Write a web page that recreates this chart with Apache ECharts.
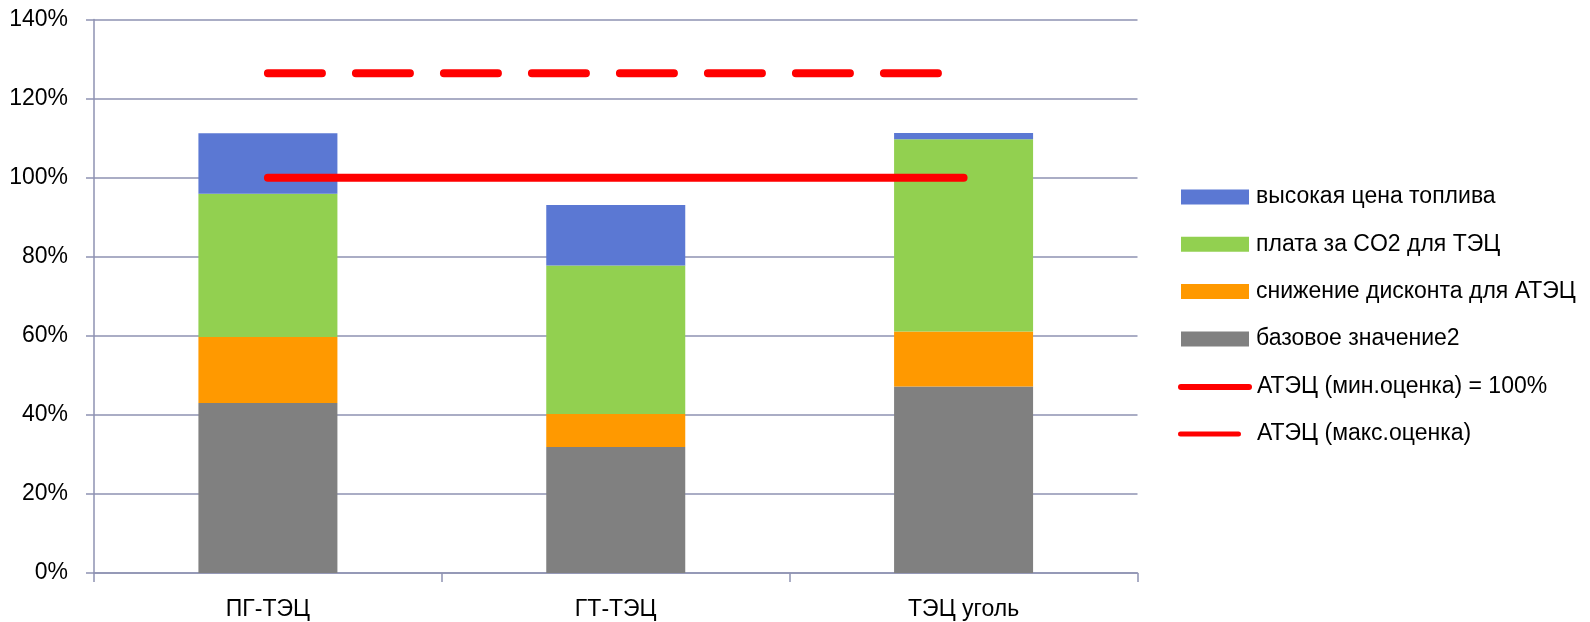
<!DOCTYPE html>
<html>
<head>
<meta charset="utf-8">
<script src="https://cdn.jsdelivr.net/npm/echarts@6/dist/echarts.min.js"></script>
<style>
  html, body { margin: 0; padding: 0; background: #ffffff; }
  #chart { width: 1590px; height: 622px; }
</style>
</head>
<body>
<div id="chart"></div>
<script>
// Categories of plants
const categories = ['ПГ-ТЭЦ', 'ГТ-ТЭЦ', 'ТЭЦ уголь'];

// Stacked components, percent of the reference cost
const baseValue     = [43.0, 31.9, 47.2];  // базовое значение2
const discountCut   = [16.7, 8.3, 13.9];   // снижение дисконта для АТЭЦ
const co2Payment    = [36.2, 37.6, 48.6];  // плата за CO2 для ТЭЦ
const highFuelPrice = [15.3, 15.3, 1.6];   // высокая цена топлива

// Nuclear CHP reference levels
const atecMin = [100, 100, 100];
const atecMax = [126.4, 126.4, 126.4];

// Y axis ticks
const yTicks = [0, 20, 40, 60, 80, 100, 120, 140];

const names = {
  base: 'базовое значение2',
  disc: 'снижение дисконта для АТЭЦ',
  co2: 'плата за CO2 для ТЭЦ',
  fuel: 'высокая цена топлива',
  min: 'АТЭЦ (мин.оценка) = 100%',
  max: 'АТЭЦ (макс.оценка)'
};

const FONT = "'Liberation Sans', Arial, sans-serif";
const AXIS_COLOR = '#8e92b2';
const capsule = 'path://M4,0 L96,0 A4,4 0 0 1 96,8 L4,8 A4,4 0 0 1 4,0 Z';

const chart = echarts.init(document.getElementById('chart'), null, { renderer: 'canvas' });

const legendText = { fontFamily: FONT, fontSize: 23, color: '#000000', lineHeight: 24 };

chart.setOption({
  animation: false,
  backgroundColor: '#ffffff',
  grid: { left: 94, right: 452.5, top: 19.5, bottom: 49, containLabel: false },
  legend: [
    {
      orient: 'vertical',
      left: 1181,
      top: 185,
      padding: 0,
      itemWidth: 68,
      itemHeight: 15,
      itemGap: 23.3,
      icon: 'rect',
      textStyle: Object.assign({ padding: [0, 0, 0, 2] }, legendText),
      selectedMode: false,
      data: [names.fuel, names.co2, names.disc, names.base]
    },
    {
      orient: 'vertical',
      left: 1178,
      top: 375,
      padding: 0,
      itemWidth: 74,
      itemHeight: 8,
      icon: capsule,
      textStyle: Object.assign({ padding: [0, 0, 0, 0] }, legendText),
      selectedMode: false,
      data: [names.min]
    },
    {
      orient: 'vertical',
      left: 1178,
      top: 422,
      padding: 0,
      itemWidth: 63,
      itemHeight: 8,
      icon: capsule,
      textStyle: Object.assign({ padding: [0, 0, 0, 11] }, legendText),
      selectedMode: false,
      data: [names.max]
    }
  ],
  xAxis: {
    type: 'category',
    data: categories,
    boundaryGap: true,
    axisLine: { show: true, lineStyle: { color: AXIS_COLOR, width: 1.5 } },
    axisTick: { show: true, length: 9, lineStyle: { color: AXIS_COLOR, width: 1.5 } },
    axisLabel: { fontFamily: FONT, fontSize: 23, color: '#000000', margin: 25 }
  },
  yAxis: {
    type: 'value',
    min: yTicks[0],
    max: yTicks[yTicks.length - 1],
    interval: yTicks[1] - yTicks[0],
    axisLine: { show: true, lineStyle: { color: AXIS_COLOR, width: 1.5 } },
    axisTick: { show: true, length: 8, lineStyle: { color: AXIS_COLOR, width: 1.5 } },
    splitLine: { show: true, lineStyle: { color: AXIS_COLOR, width: 1.5 } },
    axisLabel: { fontFamily: FONT, fontSize: 23, color: '#000000', margin: 26, formatter: '{value}%' }
  },
  series: [
    { name: names.base, type: 'bar', stack: 'total', barWidth: 139, data: baseValue, itemStyle: { color: '#808080' } },
    { name: names.disc, type: 'bar', stack: 'total', barWidth: 139, data: discountCut, itemStyle: { color: '#ff9900' } },
    { name: names.co2, type: 'bar', stack: 'total', barWidth: 139, data: co2Payment, itemStyle: { color: '#92d050' } },
    { name: names.fuel, type: 'bar', stack: 'total', barWidth: 139, data: highFuelPrice, itemStyle: { color: '#5b78d3' } },
    {
      name: names.min, type: 'line', data: atecMin, symbol: 'none', z: 5,
      itemStyle: { color: '#ff0000' },
      lineStyle: { color: '#ff0000', width: 8, cap: 'round' }
    },
    {
      name: names.max, type: 'line', data: atecMax, symbol: 'none', z: 5,
      itemStyle: { color: '#ff0000' },
      lineStyle: { color: '#ff0000', width: 8, cap: 'round', type: [54, 34] }
    }
  ]
});
</script>
</body>
</html>
